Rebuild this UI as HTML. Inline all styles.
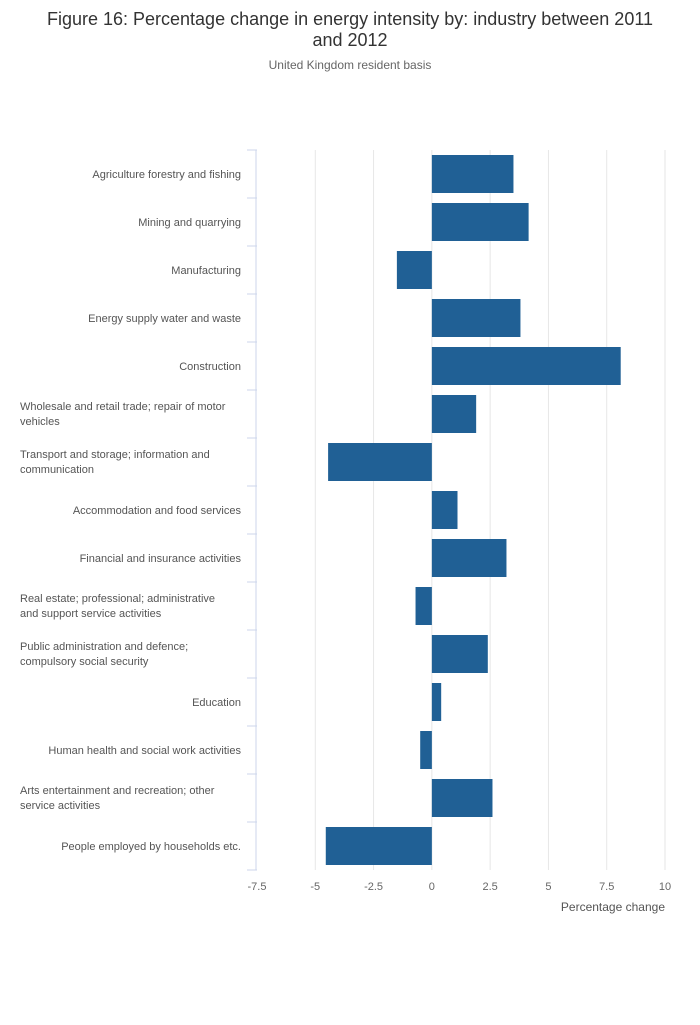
<!DOCTYPE html>
<html><head><meta charset="utf-8"><style>
body{margin:0;background:#fff;font-family:"Liberation Sans",sans-serif;}
</style></head><body>
<svg id="chart" width="700" height="1020" xmlns="http://www.w3.org/2000/svg" font-family="Liberation Sans, sans-serif">
<text x="350" y="25" text-anchor="middle" font-size="18" fill="#333">Figure 16: Percentage change in energy intensity by: industry between 2011</text>
<text x="350" y="46" text-anchor="middle" font-size="18" fill="#333">and 2012</text>
<text x="350" y="69" text-anchor="middle" font-size="12" fill="#666">United Kingdom resident basis</text>
<g id="grid"></g><g id="bars"></g><g id="labels"></g><g id="ticks"></g>
<text x="665" y="911" text-anchor="end" font-size="12" fill="#555">Percentage change</text>
</svg>
<script>
const categories=[["Agriculture forestry and fishing"],["Mining and quarrying"],["Manufacturing"],["Energy supply water and waste"],["Construction"],["Wholesale and retail trade; repair of motor","vehicles"],["Transport and storage; information and","communication"],["Accommodation and food services"],["Financial and insurance activities"],["Real estate; professional; administrative","and support service activities"],["Public administration and defence;","compulsory social security"],["Education"],["Human health and social work activities"],["Arts entertainment and recreation; other","service activities"],["People employed by households etc."]];
const values=[3.5,4.15,-1.5,3.8,8.1,1.9,-4.45,1.1,3.2,-0.7,2.4,0.4,-0.5,2.6,-4.55];
const tickValues=[-7.5,-5,-2.5,0,2.5,5,7.5,10];
const tickLabels=["-7.5","-5","-2.5","0","2.5","5","7.5","10"];
const NS="http://www.w3.org/2000/svg";
const x0=257,x1=665,yTop=150,yBottom=870;
const xs=v=>x0+(v+7.5)/17.5*(x1-x0);
const band=(yBottom-yTop)/categories.length;
function mk(t,a,p){const e=document.createElementNS(NS,t);for(const k in a)e.setAttribute(k,a[k]);p.appendChild(e);return e;}
const g=document.getElementById('grid'),b=document.getElementById('bars'),l=document.getElementById('labels'),tk=document.getElementById('ticks');
tickValues.forEach((v,i)=>{
 if(i>0){const ln=mk('line',{x1:xs(v),x2:xs(v),y1:yTop,y2:yBottom,stroke:'#e6e6e6'},g);
 
 }
 const t=mk('text',{x:xs(v),y:890,'text-anchor':'middle','font-size':11,fill:'#666'},tk);t.textContent=tickLabels[i];
 
 
});
const ax=mk('line',{x1:x0-1,x2:x0-1,y1:yTop,y2:yBottom,stroke:'#ccd6eb'},g);


categories.forEach((c,i)=>{
 const y=yTop+i*band;
 const tl=mk('line',{x1:x0-10,x2:x0,y1:y,y2:y,stroke:'#ccd6eb'},g);
 
 
 const v=values[i];
 const r=mk('rect',{x:Math.min(xs(0),xs(v)),y:y+5,width:Math.abs(xs(v)-xs(0)),height:band-10,fill:'#206095'},b);
 
 
 const cy=y+band/2;
 if(c.length===1){const t=mk('text',{x:241,y:cy+4,'text-anchor':'end','font-size':11,fill:'#555'},l);t.textContent=c[0];
  
  }
 else c.forEach((s,j)=>{const t=mk('text',{x:20,y:cy-4+j*15,'font-size':11,fill:'#555'},l);t.textContent=s;
  
  });
});
const bl=mk('line',{x1:x0-10,x2:x0,y1:yBottom,y2:yBottom,stroke:'#ccd6eb'},g);


</script>
</body></html>
